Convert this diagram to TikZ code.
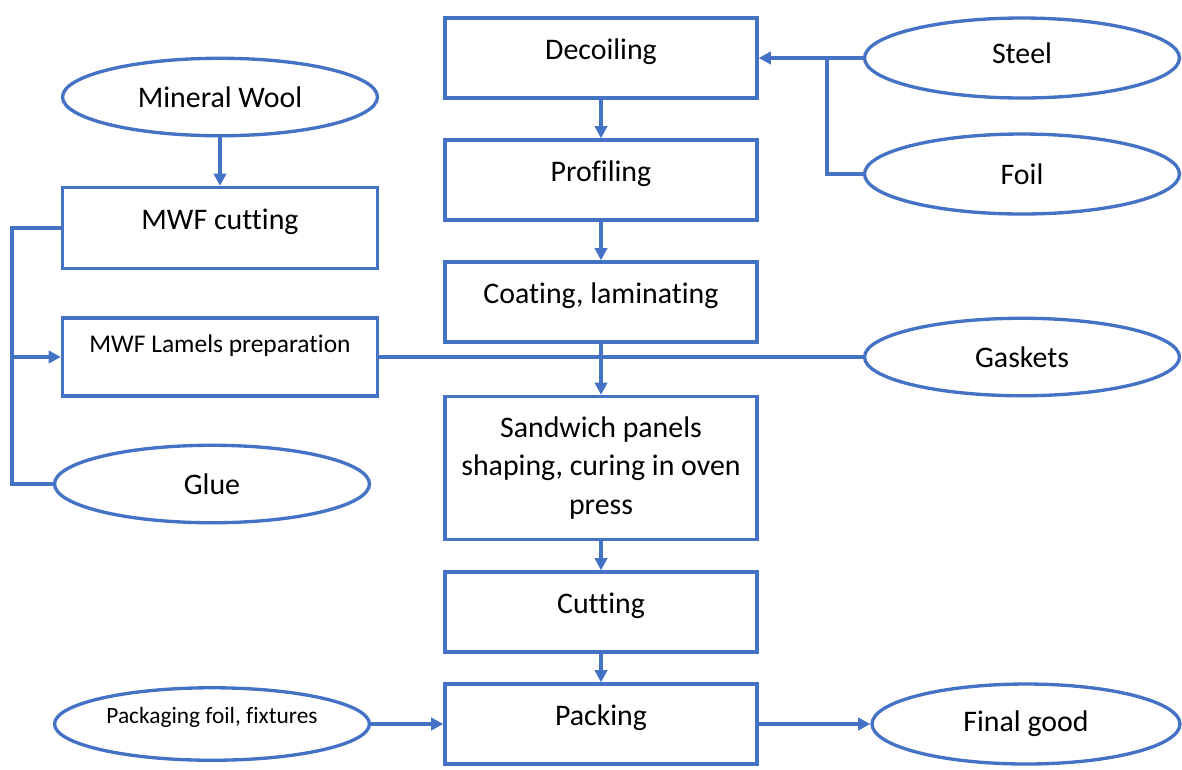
\documentclass[tikz,border=0pt]{standalone}
\usepackage{fontspec}
\setmainfont{Carlito}[Ligatures=NoCommon]
\usepackage{tikz}
\usetikzlibrary{shapes.geometric,arrows.meta}
\definecolor{flowblue}{RGB}{68,114,196}
\begin{document}
\begin{tikzpicture}[>={Stealth[length=7pt,width=7pt,inset=0pt]}, x=0.02cm, y=-0.02cm,
    box/.style={draw=flowblue, line width=1.9pt, minimum width=6.24cm, minimum height=1.6cm, align=center, font=\fontsize{17}{22}\selectfont, inner sep=2pt},
    oval/.style={ellipse, draw=flowblue, line width=1.9pt, minimum width=6.3cm, minimum height=1.55cm, inner sep=0pt, font=\fontsize{17}{20}\selectfont},
    lift/.style={text depth=#1},
    lift/.default=10pt,
    link/.style={draw=flowblue, line width=1.9pt},
    arr/.style={link, ->}]
      \useasboundingbox (0,0) rectangle (1182,769);
      \node[box, lift] (decoil) at (601,58) {Decoiling};
      \node[box, lift] (profil) at (601,180) {Profiling};
      \node[box, lift] (coat) at (601,302) {Coating, laminating};
      \node[box, minimum height=2.86cm] (sand) at (601,468) {Sandwich panels\\shaping, curing in oven\\press};
      \node[box, lift] (cut) at (601,612) {Cutting};
      \node[box, lift] (pack) at (601,724) {Packing};
      \node[box, lift, minimum width=6.3cm, minimum height=1.62cm] (cutmwf) at (220,228) {MWF cutting};
      \node[box, lift=15pt, minimum width=6.3cm, minimum height=1.56cm, font=\fontsize{14.5}{17}\selectfont] (lamels) at (220,357) {MWF Lamels preparation};
      \node[oval] (wool) at (220,97) {Mineral Wool};
      \node[oval] (glue) at (212,484) {Glue};
      \node[oval, lift=10pt, minimum height=1.45cm, font=\fontsize{13.3}{16}\selectfont] (packfoil) at (212,724) {Packaging foil, fixtures};
      \node[oval, minimum width=6.16cm, minimum height=1.6cm] (final) at (1026,724) {Final good};
      \node[oval, lift=6pt, minimum height=1.6cm] (steel) at (1022,58) {Steel};
      \node[oval, minimum height=1.6cm] (foil) at (1022,174) {Foil};
      \node[oval] (gaskets) at (1022,357) {Gaskets};
      \coordinate (jright) at (827,58);
      \coordinate (jleft) at (12,357);
      \draw[arr] (decoil) -- (profil);
      \draw[arr] (profil) -- (coat);
      \draw[arr] (coat) -- (sand);
      \draw[arr] (sand) -- (cut);
      \draw[arr] (cut) -- (pack);
      \draw[arr] (steel.west) -- (decoil.east);
      \draw[link] (foil.west) -| (jright);
      \draw[arr] (wool.south -| cutmwf.north) -- (cutmwf.north);
      \draw[link] (cutmwf.west) -| (jleft);
      \draw[link] (glue.west) -| (jleft);
      \draw[arr] (jleft) -- (lamels.west);
      \draw[link] (lamels.east) -- (gaskets.west);
      \draw[arr] (packfoil.east) -- (pack.west);
      \draw[arr] (pack.east) -- (final.west);
\end{tikzpicture}
\end{document}
